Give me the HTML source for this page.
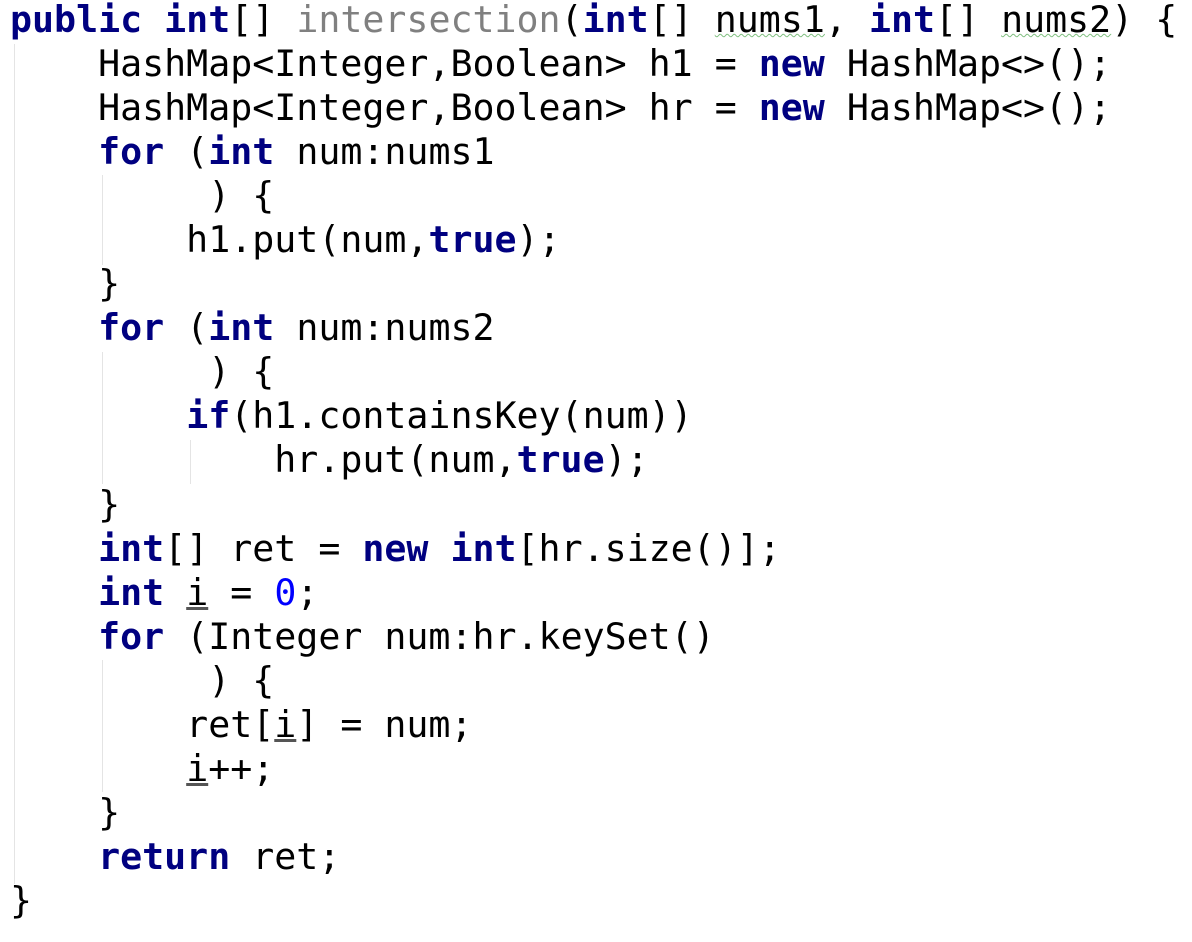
<!DOCTYPE html>
<html><head><meta charset="utf-8"><style>
html,body{margin:0;padding:0;background:#fff;width:1192px;height:942px;overflow:hidden}
pre{margin:0;position:absolute;left:10px;top:-2px;font-family:"DejaVu Sans Mono","Liberation Mono",monospace;font-size:36.6px;line-height:44.05px;color:#000}
b{color:#000080;font-weight:bold}
.g{color:#808080}
.n{color:#0000ff}
.u{text-decoration:underline;text-decoration-color:#555}
.w{text-decoration:underline wavy #7fbf7f;text-decoration-thickness:1px}
.v{position:absolute;width:1px;background:#e4e4e4}
</style></head><body>
<div class="v" style="left:14px;top:44px;height:840px"></div>
<div class="v" style="left:102px;top:175px;height:90px"></div>
<div class="v" style="left:102px;top:352px;height:132px"></div>
<div class="v" style="left:190px;top:440px;height:44px"></div>
<div class="v" style="left:102px;top:660px;height:132px"></div>
<pre><b>public int</b>[] <span class="g">intersection</span>(<b>int</b>[] <span class="w">nums1</span>, <b>int</b>[] <span class="w">nums2</span>) {
    HashMap&lt;Integer,Boolean&gt; h1 = <b>new</b> HashMap&lt;&gt;();
    HashMap&lt;Integer,Boolean&gt; hr = <b>new</b> HashMap&lt;&gt;();
    <b>for</b> (<b>int</b> num:nums1
         ) {
        h1.put(num,<b>true</b>);
    }
    <b>for</b> (<b>int</b> num:nums2
         ) {
        <b>if</b>(h1.containsKey(num))
            hr.put(num,<b>true</b>);
    }
    <b>int</b>[] ret = <b>new int</b>[hr.size()];
    <b>int</b> <span class="u">i</span> = <span class="n">0</span>;
    <b>for</b> (Integer num:hr.keySet()
         ) {
        ret[<span class="u">i</span>] = num;
        <span class="u">i</span>++;
    }
    <b>return</b> ret;
}</pre>
</body></html>
